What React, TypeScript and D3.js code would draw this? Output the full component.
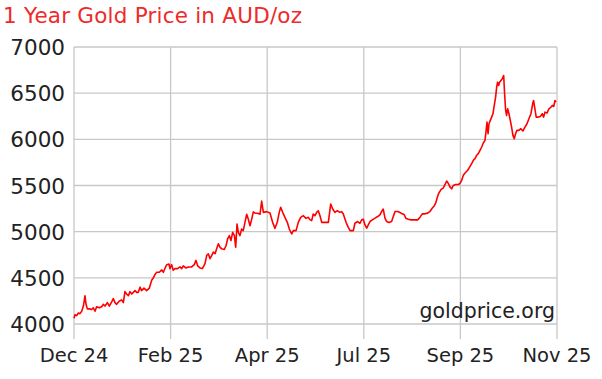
import React from "react";
import * as d3 from "d3";

// Day offsets from the start of the one-year window, and AUD/oz prices
const days: number[] = [
  0, 0.8, 2, 3.3, 4.5, 5.8, 7.1, 8.3, 9.1, 10.1, 11.6, 13.3, 14.6, 15.9, 17.1, 19.1, 20.9, 22.2, 23.4, 25.2,
  26.7, 28.5, 29.7, 31, 32.2, 34.3, 36, 37.3, 38.5, 39.8, 41.1, 42.3, 43.6, 44.8, 46.1, 47.4, 48.6, 49.9, 51.1, 52.9,
  54.9, 56.9, 58.7, 60, 61.2, 62.5, 64.5, 66.3, 67.5, 68.8, 70.1, 71.8,
  72.5, 73.8, 75, 76.3, 78.3, 80.1, 81.4, 82.6, 84.4, 86.4, 88.9, 90.9, 92.2, 93.5, 95.2, 97, 99, 100.3, 101.5, 102.8,
  104.1, 105.3, 106.6, 107.8, 109.1, 110.3, 111.6, 113.6, 114.9, 116.1, 117.4, 118.6, 119.9, 121.2, 122.2, 123.2, 124.2,
  125.4, 126.7, 127.9, 129.2, 130.5, 131.7, 133, 134.3, 135.5, 136.8, 138.8, 140.6, 141.8,
  143.1, 145.6, 148.1, 150.1, 151.9, 153.6, 155.1, 156.2, 157.7, 159.4, 161.2, 162.7, 164.5, 165.7, 167.8, 169.5, 171.3,
  173.3, 175.3, 177.1, 178.3, 179.6, 180.8, 182.1, 183.4, 184.6, 185.9, 187.2, 189.7, 192.2, 194, 195.5, 197.2, 199, 201,
  202.3, 203.5, 205.6, 207.3, 208.6, 211.1,
  212.3, 214.4, 216.1, 217.4, 218.6, 219.9, 221.2, 222.4, 223.7, 225.4, 227.5, 229.5, 231.2, 232.5, 233.7, 235, 236.3,
  238, 240, 241.3, 242.6, 244.6, 246.3, 248.1, 249.6, 250.7, 252.6, 254.7, 257.2, 259.7, 261.5, 263.2, 265.2, 267.3, 269,
  270.8, 272.3, 273.3, 274.8, 275.8, 277.3, 279.1, 280.4, 281.6, 282.9, 284.1, 285.4, 286.6, 288.4, 290.4, 291.7,
  293, 294.2, 295.5, 297.5, 299.3, 300.5, 301.8, 303, 304.3, 305.5, 306.8, 308.1, 309.3, 310.6, 311.3, 312.1, 312.9,
  313.6, 314.6, 315.6, 316.6, 317.6, 318.6, 319.4, 320.1, 320.9, 321.6, 322.6, 323.6, 324.7, 325.4, 326.2, 326.9, 327.7,
  328.7, 329.7, 330.7, 331.7, 332.7, 333.7, 334.7, 336.2, 337.7, 339.2, 340.8, 342.3, 343.8, 345.3, 346.6, 347.3, 348.3,
  349.3, 350.9, 352.4, 353.9, 354.9, 355.9, 357.4, 358.9, 360.5, 361.5, 362.5, 363.5, 364.2,
];

const prices: number[] = [
  4063, 4101, 4090, 4119, 4112, 4138, 4194, 4306, 4213, 4164, 4164, 4157, 4175, 4138, 4187, 4175, 4187, 4213, 4194, 4231,
  4194, 4239, 4276, 4231, 4213, 4250, 4261, 4231, 4351, 4325, 4306, 4351, 4325, 4343, 4362, 4343, 4343, 4399, 4362, 4388,
  4362, 4388, 4474, 4500, 4537, 4560, 4560, 4586, 4560, 4604, 4642, 4649,
  4600, 4643, 4582, 4600, 4600, 4618, 4600, 4629, 4607, 4618, 4618, 4643, 4689, 4629, 4607, 4600, 4654, 4743, 4761, 4707,
  4743, 4779, 4761, 4814, 4868, 4832, 4814, 4807, 4850, 4921, 4957, 4904, 4993, 4957, 4832, 5082, 4993,
  4957, 5029, 5011, 5100, 5189, 5136, 5064, 5136, 5214, 5200, 5200, 5189, 5332,
  5209, 5217, 5202, 5101, 5036, 5101, 5209, 5264, 5209, 5155, 5101, 5029, 4975, 5011, 5011, 5101, 5155,
  5173, 5144, 5155, 5130, 5119, 5191, 5173, 5209, 5227, 5173, 5101, 5101, 5101, 5300, 5245, 5209, 5227, 5209,
  5217, 5191, 5101, 5047, 5011, 5011,
  5091, 5110, 5091, 5128, 5135, 5073, 5037, 5073, 5110, 5128, 5146, 5164, 5183, 5219, 5245, 5146, 5110,
  5099, 5110, 5164, 5219, 5219, 5208, 5193, 5183, 5146, 5135, 5128, 5128, 5128, 5157, 5193, 5193, 5201, 5219,
  5256, 5281, 5310, 5383, 5420, 5456, 5475, 5511, 5548, 5522, 5485, 5464, 5500, 5511, 5511, 5522,
  5557, 5611, 5636, 5665, 5708, 5737, 5773, 5791, 5827, 5845, 5881, 5917, 5960, 5989, 6079, 6187, 6061,
  6169, 6205, 6241, 6277, 6367, 6457, 6565, 6619, 6583, 6619, 6637, 6655, 6691, 6493, 6313, 6259, 6331,
  6277, 6205, 6133, 6043, 6007, 6061, 6097, 6097, 6115, 6090, 6133, 6169, 6223, 6277, 6385, 6421, 6331,
  6241, 6241, 6248, 6277, 6241, 6295, 6284, 6331, 6349, 6367, 6356, 6421, 6403,
];

const xTickDays: number[] = [0, 73, 146, 219, 292, 365];
const xTickLabels: string[] = ["Dec 24", "Feb 25", "Apr 25", "Jul 25", "Sep 25", "Nov 25"];
const yTicks: number[] = [4000, 4500, 5000, 5500, 6000, 6500, 7000];

const title = "1 Year Gold Price in AUD/oz";
const watermark = "goldprice.org";

export default function App() {
  const W = 602;
  const H = 379;
  const left = 74;
  const right = 557;
  const top = 47;
  const bottom = 324;

  const x = d3.scaleLinear().domain([0, 365]).range([left, right]);
  const y = d3.scaleLinear().domain([4000, 7000]).range([bottom, top]);

  const pts: [number, number][] = days.map((d, i) => [d, prices[i]]);
  const line = d3
    .line<[number, number]>()
    .x((d) => x(d[0]))
    .y((d) => y(d[1]));

  const font = "'DejaVu Sans', Verdana, sans-serif";
  const grid = "#c8c8c8";

  return (
    <svg
      width={W}
      height={H}
      style={{ position: "absolute", left: 0, top: 0, background: "#fff" }}
      fontFamily={font}
    >
      <rect x={0} y={0} width={W} height={H} fill="#fff" />
      <text x={3} y={23} fontSize={21.5} fill="#ee2a2a" textLength={299} lengthAdjust="spacing">
        {title}
      </text>
      {yTicks.map((t) => (
        <line key={"h" + t} x1={left} x2={right} y1={y(t)} y2={y(t)} stroke={grid} strokeWidth={1.3} />
      ))}
      {xTickDays.map((t) => (
        <line key={"v" + t} x1={x(t)} x2={x(t)} y1={top} y2={bottom + 15} stroke={grid} strokeWidth={1.3} />
      ))}
      {yTicks.map((t) => (
        <text key={"yl" + t} x={65} y={y(t) + 8} fontSize={21.5} textAnchor="end" fill="#222">
          {t}
        </text>
      ))}
      {xTickDays.map((t, i) => (
        <text key={"xl" + t} x={x(t)} y={362} fontSize={19.5} textAnchor="middle" fill="#222">
          {xTickLabels[i]}
        </text>
      ))}
      <text x={555} y={318} fontSize={20.5} textAnchor="end" fill="#222">
        {watermark}
      </text>
      <path d={line(pts) || ""} fill="none" stroke="#ff0000" strokeWidth={1.6} strokeLinejoin="round" />
    </svg>
  );
}
